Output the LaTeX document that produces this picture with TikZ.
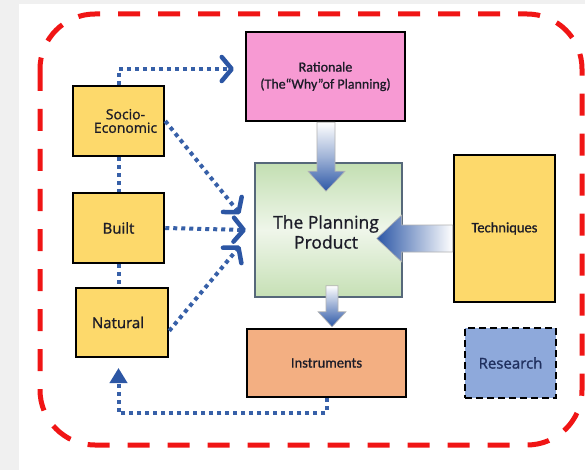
\documentclass[tikz,border=0pt]{standalone}
\usepackage{fontspec}
\setmainfont{Open Sans}
\newfontfamily\osm[FakeBold=1.1]{Open Sans}
\newfontfamily\carl[FakeBold=1.0]{Carlito}
\usetikzlibrary{arrows.meta,calc}
\definecolor{dotblue}{HTML}{3760A8}
\definecolor{chevblue}{HTML}{2C56A4}
\definecolor{bigblue}{HTML}{2C57A6}
\definecolor{ybox}{HTML}{FDD96B}
\definecolor{pinkbox}{HTML}{F79AD3}
\definecolor{orbox}{HTML}{F3AF82}
\definecolor{resbox}{HTML}{8EA9DB}
\definecolor{prodtop}{HTML}{C3DFB2}
\definecolor{prodmid}{HTML}{EFF6EA}
\definecolor{prodbot}{HTML}{C6E0B5}
\definecolor{prodedge}{HTML}{56687A}
\definecolor{redline}{HTML}{F01515}
\definecolor{txt}{HTML}{1C1C28}
\definecolor{restxt}{HTML}{1F2F5E}
\tikzset{
  basebox/.style={draw=black, line width=2.5pt, text=txt, align=center, inner sep=0pt},
  yelbox/.style={basebox, fill=ybox},
  dotline/.style={draw=dotblue, line width=4pt, dash pattern=on 4pt off 4pt},
  chevarrow/.style={dotline, -{Straight Barb[length=10pt,width=24pt,line width=4.5pt,color=chevblue,round]}},
  bigarrow/.style={draw=gray!60, line width=0.6pt},
}
\begin{document}
\begin{tikzpicture}[x=1pt,y=-1pt]
\useasboundingbox (0,0) rectangle (585,470);
\fill[black!6] (0,0) rectangle (585,470);
\fill[white] (19,4) rectangle (585,470);

% outer red dashed frame
\draw[redline, line width=5pt, dash pattern=on 22pt off 18pt, rounded corners=55pt]
  (40,14) rectangle (582,445);

% boxes
\node (soc) [yelbox, minimum width=91pt, minimum height=70pt, font=\osm\fontsize{14}{13.5}\selectfont] at (118.5,121)
  {\hspace*{14pt}Socio-\\\hspace*{14pt}Economic};
\node (blt) [yelbox, minimum width=91pt, minimum height=70pt, font=\osm\fontsize{15}{17}\selectfont] at (118.5,228)
  {Built};
\node (nat) [yelbox, minimum width=92pt, minimum height=69pt, font=\osm\fontsize{15}{17}\selectfont] at (122,322.5)
  {Natural\hspace*{8pt}};
\node (rat) [basebox, fill=pinkbox, minimum width=159pt, minimum height=89pt, font=\carl\fontsize{14}{17}\selectfont] at (325.5,76.5)
  {Rationale\\(The“Why”of Planning)};
\node (prod) [basebox, draw=prodedge, minimum width=147pt, minimum height=134pt,
  shading=axis, top color=prodtop, bottom color=prodbot, middle color=prodmid] at (328.5,230) {};
\node (tec) [yelbox, minimum width=101pt, minimum height=147pt, font=\carl\fontsize{14.5}{17}\selectfont] at (504.5,228.5)
  {Techniques};
\node (ins) [basebox, fill=orbox, minimum width=159pt, minimum height=68pt, font=\carl\fontsize{14.5}{17}\selectfont] at (326.5,363)
  {Instruments};
\node (res) [basebox, fill=resbox, dash pattern=on 7pt off 4pt, minimum width=91pt, minimum height=70pt, text=restxt, font=\osm\fontsize{15}{17}\selectfont] at (510.5,363)
  {Research};

% block arrows
\shade[bigarrow, top color=white, bottom color=bigblue, middle color=white!55!bigblue]
  ($(rat.south)+(-8.5,0)$) -- ($(rat.south)+(9.5,0)$) -- ($(rat.south)+(9.5,49)$)
  -- ($(rat.south)+(19.5,49)$) -- ($(rat.south)+(0.5,69)$) -- ($(rat.south)+(-17.5,49)$)
  -- ($(rat.south)+(-8.5,49)$) -- cycle;
\shade[bigarrow, right color=white, left color=bigblue, middle color=white!50!bigblue]
  ($(tec.west)+(0,-3.5)$) -- ($(tec.west)+(-51,-3.5)$) -- ($(tec.west)+(-51,-13.5)$)
  -- ($(tec.west)+(-76,10)$) -- ($(tec.west)+(-51,33.5)$) -- ($(tec.west)+(-51,23.5)$)
  -- ($(tec.west)+(0,23.5)$) -- cycle;
\shade[bigarrow, top color=white, bottom color=bigblue, middle color=white!50!bigblue]
  ($(ins.north)+(-0.5,-42)$) -- ($(ins.north)+(11.5,-42)$) -- ($(ins.north)+(11.5,-16)$)
  -- ($(ins.north)+(19.5,-16)$) -- ($(ins.north)+(5.5,-1)$) -- ($(ins.north)+(-8.5,-16)$)
  -- ($(ins.north)+(-0.5,-16)$) -- cycle;

% product text
\node (prodtxt) [text=txt, align=center, inner sep=0pt, font=\osm\fontsize{17.5}{20}\selectfont] at (326,232)
  {The Planning\\Product};

% dotted connectors
\coordinate (tipR) at (234,69);
\coordinate (tipS) at (240,214);
\coordinate (tipB) at (246,230);
\coordinate (tipN) at (240,246);
\coordinate (fb) at (118.5,413);
\coordinate (tipNat) at (118.5,368);
\draw[chevarrow] (soc.north) |- (tipR);
\draw[dotline] (soc.south) -- (blt.north);
\draw[dotline] (blt.south) -- (blt.south |- nat.north);
\draw[chevarrow] (soc.east) -- (tipS);
\draw[chevarrow] (blt.east) -- (tipB);
\draw[chevarrow] (nat.-10) -- (tipN);
\draw[dotline, -{Triangle[length=15pt,width=17pt,color=chevblue]}] (ins.south) |- (fb) -- (tipNat);
\end{tikzpicture}
\end{document}
